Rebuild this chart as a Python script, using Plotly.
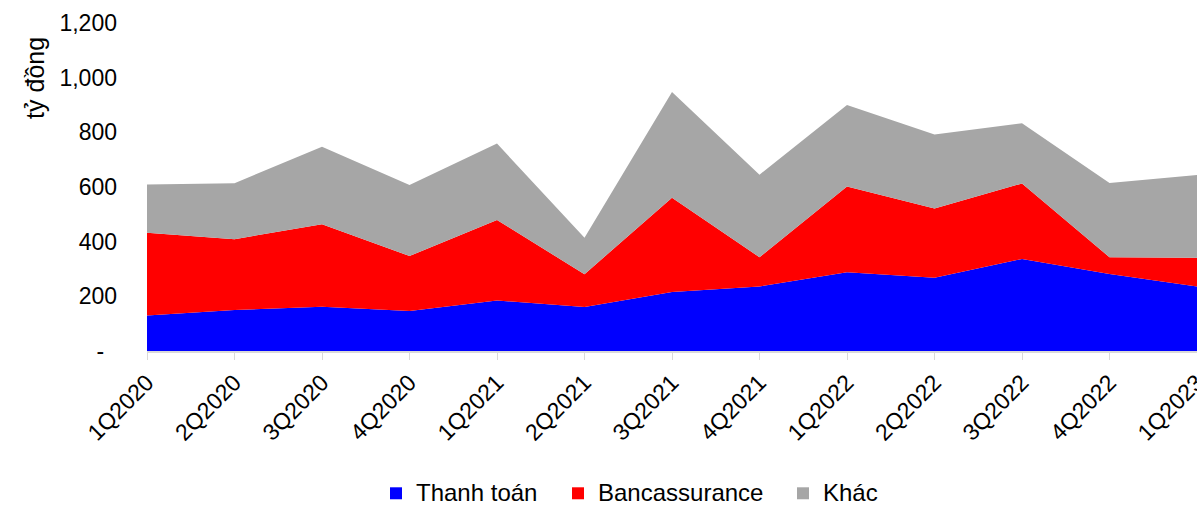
import plotly.graph_objects as go

quarters = ["1Q2020", "2Q2020", "3Q2020", "4Q2020", "1Q2021", "2Q2021", "3Q2021",
            "4Q2021", "1Q2022", "2Q2022", "3Q2022", "4Q2022", "1Q2023"]
thanh_toan = [130, 150, 162, 146, 185, 161, 216, 236, 288, 268, 337, 282, 236]
bancassurance = [303, 259, 302, 202, 294, 120, 345, 107, 314, 253, 276, 61, 105]
khac = [176, 205, 283, 259, 280, 133, 387, 302, 298, 271, 220, 272, 303]

series_names = ["Thanh toán", "Bancassurance", "Khác"]
series_colors = ["#0000FF", "#FF0000", "#A6A6A6"]
series_values = [thanh_toan, bancassurance, khac]

y_tickvals = [0, 200, 400, 600, 800, 1000, 1200]
y_ticktext = ["-\u00a0\u00a0", "200", "400", "600", "800", "1,000", "1,200"]

font_family = "Liberation Sans, Arial, sans-serif"

W, H = 1197, 505
ML, MR, MT, MB = 147, 0, 23, 153.5
PW, PH = W - ML - MR, H - MT - MB


def px_x(p):
    return (p - ML) / PW


def px_y(p):
    return (H - MB - p) / PH


fig = go.Figure()
for name, vals, col in zip(series_names, series_values, series_colors):
    fig.add_trace(go.Scatter(
        x=quarters, y=vals, name=name, mode="lines",
        stackgroup="one", line=dict(width=0, color=col),
        fillcolor=col, showlegend=False, hoverinfo="x+y+name"))

# manual legend (square swatch + label), kept below the plot without pushing margins
legend_swatch_px = [390, 572, 797]
legend_y_px = 494
shapes = []
annotations = []
for name, col, sx in zip(series_names, series_colors, legend_swatch_px):
    shapes.append(dict(type="rect", xref="paper", yref="paper",
                       x0=px_x(sx), x1=px_x(sx + 12),
                       y0=px_y(legend_y_px + 6), y1=px_y(legend_y_px - 6),
                       fillcolor=col, line=dict(width=0)))
    annotations.append(dict(text=name, xref="paper", yref="paper",
                            x=px_x(sx + 24), y=px_y(legend_y_px - 1),
                            xanchor="left", yanchor="middle", showarrow=False,
                            font=dict(size=24)))

annotations.append(dict(
    text="tỷ đồng", xref="paper", yref="paper", x=px_x(35), y=px_y(78),
    xanchor="center", yanchor="middle", textangle=-90, showarrow=False,
    font=dict(size=25)))

fig.update_layout(
    width=W, height=H,
    margin=dict(l=ML, r=MR, t=MT, b=MB),
    paper_bgcolor="white", plot_bgcolor="white",
    font=dict(family=font_family, size=23, color="#000000"),
    showlegend=False,
    xaxis=dict(
        type="category", range=[0, 12], showgrid=False, automargin=False,
        showline=True, linecolor="#D9D9D9", linewidth=2,
        ticks="outside", ticklen=7, tickcolor="#D9D9D9", tickwidth=1,
        tickangle=-45, tickfont=dict(size=23), zeroline=False),
    yaxis=dict(
        range=[0, 1200], tickvals=y_tickvals, ticktext=y_ticktext, automargin=False,
        showgrid=False, showline=False, zeroline=False, ticks="",
        tickfont=dict(size=23), ticklabelstandoff=29),
    shapes=shapes,
    annotations=annotations,
)

fig.write_html(
    "out.html",
    config={"responsive": False, "displayModeBar": False},
    post_script="document.body.style.margin='0px';document.body.style.overflow='hidden';",
)
